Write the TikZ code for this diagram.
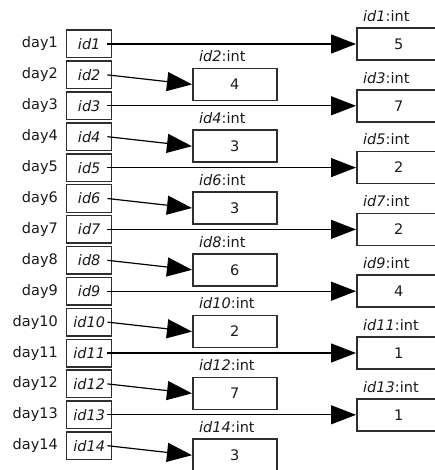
\documentclass[tikz,border=0pt]{standalone}
\usepackage{fontspec}
\setmainfont{DejaVu Sans}
\usetikzlibrary{arrows.meta}
\definecolor{boxline}{HTML}{2E2E2E}
\definecolor{ink}{HTML}{1A1A1A}

\begin{document}
\begin{tikzpicture}[x=1pt,y=-1pt,font=\fontsize{14.5}{17}\selectfont,text=ink,
  idbox/.style={draw=boxline,line width=1.5pt,minimum width=45pt,minimum height=27.5pt,inner sep=0pt},
  valbox/.style={draw=boxline,line width=1.5pt,minimum width=84pt,minimum height=32pt,inner sep=0pt,anchor=west},
  tag/.style={anchor=base west,inner sep=0pt},
  link/.style={line width=1.2pt,-{Triangle[length=25pt,width=19pt]}}]
  \useasboundingbox (0,0) rectangle (434,470);
  % day labels and id boxes
  \foreach \i in {1,...,14}{
    \pgfmathsetmacro\r{44+(\i-1)*30.9}
    \node[anchor=east,inner sep=0pt] (day\i) at (58,\r) {day\i};
    \node[idbox] (id\i) at (89.2,\r) {\textit{id\i}};}
  % odd ids -> right column
  \foreach \i/\v in {1/5,3/7,5/2,7/2,9/4,11/1,13/1}{
    \pgfmathsetmacro\r{44+(\i-1)*30.9}
    \node[valbox] (val\i) at (356,\r) {\v};}
  % even ids -> middle column
  \foreach \i/\v in {2/4,4/3,6/3,8/6,10/2,12/7,14/3}{
    \pgfmathsetmacro\r{44+(\i-1)*30.9+9.5}
    \node[valbox] (val\i) at (192,\r) {\v};}
  \foreach \i in {1,...,14}{
    \node[tag] (tag\i) at ([xshift=7pt,yshift=6pt]val\i.north west) {\textit{id\i}:int};
    \draw[link] ([xshift=-5pt]id\i.east) -- (val\i.west);}
\end{tikzpicture}
\end{document}
